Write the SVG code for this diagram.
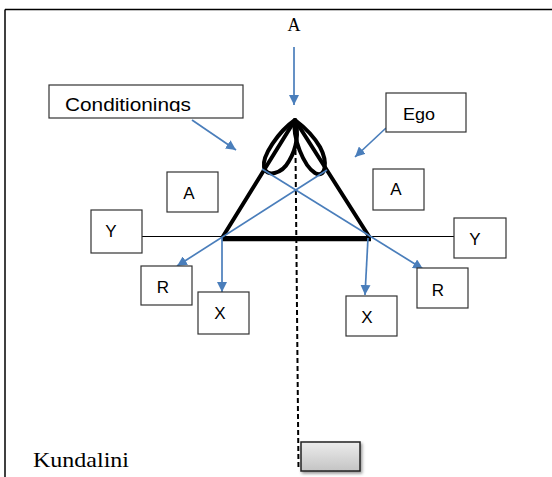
<svg xmlns="http://www.w3.org/2000/svg" width="552" height="477" viewBox="0 0 552 477">
<style>
.box{fill:#fff;stroke:#333;stroke-width:1.2}
.lbl{font-family:"Liberation Sans",Arial,sans-serif;font-size:17px;fill:#000;text-anchor:middle}
.serif{font-family:"Liberation Serif","Times New Roman",serif;fill:#000}
.blue{stroke:#4a7ebb;stroke-width:1.7;fill:none}
.thick{stroke:#000;stroke-width:4;fill:none;stroke-linejoin:round}
</style>
<defs>
<marker id="ah" viewBox="0 0 10 10" refX="10" refY="5" markerWidth="10" markerHeight="10" markerUnits="userSpaceOnUse" orient="auto">
<path d="M0,0 L10,5 L0,10 Z" fill="#4a7ebb"/>
</marker>
<linearGradient id="g" x1="0" y1="0" x2="0" y2="1">
<stop offset="0" stop-color="#ececec"/>
<stop offset="1" stop-color="#c4c4c4"/>
</linearGradient>
<filter id="sh" x="-20%" y="-20%" width="150%" height="160%">
<feDropShadow dx="1.5" dy="2" stdDeviation="1.5" flood-color="#000" flood-opacity="0.4"/>
</filter>
<clipPath id="cc"><rect x="49" y="85" width="194" height="27"/></clipPath>
</defs>
<g id="frame" fill="none" stroke="#000" stroke-width="1.5">
<line x1="5" y1="9.5" x2="552" y2="9.5"/>
<line x1="5" y1="9.5" x2="5" y2="477"/>
</g>
<g id="axis">
<line x1="142" y1="236.5" x2="454" y2="236.5" stroke="#000" stroke-width="1.2"/>
<line x1="295.5" y1="150" x2="298.5" y2="470" stroke="#000" stroke-width="2" stroke-dasharray="5,3"/>
</g>
<g id="triangle">
<path class="thick" d="M222,238 L295,120 L370,238"/>
<line x1="222" y1="239" x2="371" y2="239" stroke="#000" stroke-width="4.5"/>
<path class="thick" d="M295,120 C278,132 262,156 264,167 C266,178 282,174 289,161 C297,148 299,132 295,120 Z" stroke-width="3.2"/>
<path class="thick" d="M295,120 C292,138 304,166 315,173 C326,179 328,162 320,147 C313,135 303,126 295,120 Z" stroke-width="3.2"/>
</g>
<g id="connectors">
<line class="blue" x1="294" y1="47" x2="294" y2="105" marker-end="url(#ah)"/>
<line class="blue" x1="192" y1="120" x2="236" y2="150" marker-end="url(#ah)"/>
<line class="blue" x1="386" y1="128" x2="355" y2="157" marker-end="url(#ah)"/>
<line class="blue" x1="327" y1="170" x2="177" y2="266" marker-end="url(#ah)"/>
<line class="blue" x1="262" y1="169" x2="423" y2="269" marker-end="url(#ah)"/>
<line class="blue" x1="222" y1="238" x2="222" y2="292" marker-end="url(#ah)"/>
<line class="blue" x1="368" y1="238" x2="365" y2="295" marker-end="url(#ah)"/>
</g>
<g id="node-top-A"><text class="serif" x="294" y="31" font-size="18" text-anchor="middle">A</text></g>
<g id="node-conditionings">
<rect class="box" x="49" y="85" width="194" height="33"/>
<text x="65" y="111" clip-path="url(#cc)" font-family="Liberation Sans,Arial,sans-serif" font-size="18" textLength="126" lengthAdjust="spacingAndGlyphs">Conditionings</text>
</g>
<g id="node-ego">
<rect class="box" x="386" y="93" width="80" height="39"/>
<text x="403" y="120" font-family="Liberation Sans,Arial,sans-serif" font-size="17" textLength="32" lengthAdjust="spacingAndGlyphs">Ego</text>
</g>
<g id="node-A-left"><rect class="box" x="167" y="172" width="51" height="40"/><text class="lbl" x="189" y="199">A</text></g>
<g id="node-A-right"><rect class="box" x="373" y="169" width="51" height="41"/><text class="lbl" x="396" y="195">A</text></g>
<g id="node-Y-left"><rect class="box" x="91" y="210" width="51" height="43"/><text class="lbl" x="111" y="237">Y</text></g>
<g id="node-Y-right"><rect class="box" x="454" y="218" width="52" height="40"/><text class="lbl" x="475" y="245">Y</text></g>
<g id="node-R-left"><rect class="box" x="141" y="266" width="51" height="39" stroke="#555"/><text class="lbl" x="163" y="293">R</text></g>
<g id="node-R-right"><rect class="box" x="417" y="268" width="51" height="40" stroke="#555"/><text class="lbl" x="438" y="296">R</text></g>
<g id="node-X-left"><rect class="box" x="198" y="292" width="51" height="42"/><text class="lbl" x="220" y="319">X</text></g>
<g id="node-X-right"><rect class="box" x="346" y="296" width="51" height="40"/><text class="lbl" x="367" y="323">X</text></g>
<g id="node-kundalini"><text class="serif" x="33" y="467" font-size="21" textLength="96" lengthAdjust="spacingAndGlyphs">Kundalini</text></g>
<g id="node-base"><rect x="301" y="442" width="59" height="29" fill="url(#g)" stroke="#222" stroke-width="1.5" filter="url(#sh)"/></g>
</svg>
